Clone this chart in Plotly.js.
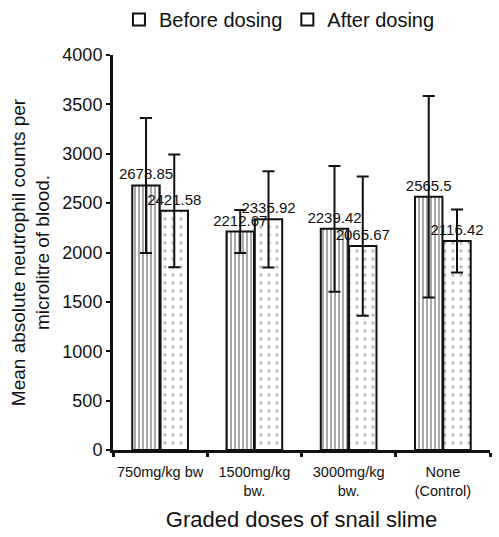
<!DOCTYPE html>
<html>
<head>
<meta charset="utf-8">
<script src="https://cdn.plot.ly/plotly-3.0.1.min.js"></script>
<style>html,body{margin:0;padding:0;background:#fff;}#chart{width:499px;height:537px;}</style>
</head>
<body>
<div id="chart"></div>
<script>
var categories = ["750mg/kg bw", "1500mg/kg<br>bw.", "3000mg/kg<br>bw.", "None<br>(Control)"];
var beforeValues = [2678.85, 2212.67, 2239.42, 2565.5];
var afterValues = [2421.58, 2335.92, 2065.67, 2116.42];
var beforeErr = [683, 218, 637, 1020];
var afterErr = [572, 487, 705, 320];
var beforeLabels = ["2678.85", "2212.67", "2239.42", "2565.5"];
var afterLabels = ["2421.58", "2335.92", "2065.67", "2116.42"];
var yTicks = [0, 500, 1000, 1500, 2000, 2500, 3000, 3500, 4000];

var font = "Liberation Sans, Arial, sans-serif";

var traces = [
  {
    type: "bar", x: categories, y: beforeValues, name: "Before dosing", showlegend: false,
    text: beforeLabels, textposition: "outside", constraintext: "none", cliponaxis: false,
    textfont: {family: font, size: 15, color: "#111"},
    marker: {color: "#cfcfcf", line: {color: "#111", width: 2},
      pattern: {shape: "|", fgcolor: "#707070", size: 4, solidity: 0.3}},
    error_y: {type: "data", array: beforeErr, visible: true, color: "#111", thickness: 2, width: 6}
  },
  {
    type: "bar", x: categories, y: afterValues, name: "After dosing", showlegend: false,
    text: afterLabels, textposition: "outside", constraintext: "none", cliponaxis: false,
    textfont: {family: font, size: 15, color: "#111"},
    marker: {color: "#ffffff", line: {color: "#111", width: 2},
      pattern: {shape: ".", fgcolor: "#bbb", size: 8, solidity: 0.15}},
    error_y: {type: "data", array: afterErr, visible: true, color: "#111", thickness: 2, width: 6}
  },
  {
    type: "scatter", mode: "markers", x: [null], y: [null], name: "Before dosing",
    marker: {symbol: "square-open", size: 16, color: "#111", line: {width: 2.5}}
  },
  {
    type: "scatter", mode: "markers", x: [null], y: [null], name: "After dosing",
    marker: {symbol: "square-open", size: 16, color: "#111", line: {width: 2.5}}
  }
];

var layout = {
  width: 499, height: 537,
  margin: {l: 113, r: 9, t: 55, b: 87},
  paper_bgcolor: "#fff", plot_bgcolor: "#fff",
  font: {family: font, color: "#111"},
  barmode: "group", bargap: 0.4, bargroupgap: 0.03,
  showlegend: true,
  legend: {orientation: "h", xref: "container", yref: "container", x: 0.56, xanchor: "center", y: 1, yanchor: "top",
    font: {family: font, size: 20, color: "#111"}, itemwidth: 30, tracegroupgap: 0,
    itemsizing: "constant"},
  xaxis: {
    type: "category", showline: true, linecolor: "#111", linewidth: 3,
    ticks: "outside", tickson: "boundaries", ticklen: 4, tickwidth: 3, tickcolor: "#111",
    tickangle: 0, automargin: false,
    tickfont: {family: font, size: 14.5, color: "#111"}, ticklabelstandoff: 7,
    showgrid: false, zeroline: false,
    title: {text: "Graded doses of snail slime", font: {family: font, size: 22, color: "#111"}, standoff: 14}
  },
  yaxis: {
    range: [0, 4000], tickvals: yTicks, ticktext: yTicks.map(String),
    showline: true, linecolor: "#111", linewidth: 3, automargin: false,
    ticks: "outside", ticklen: 4, tickwidth: 2, tickcolor: "#111",
    tickfont: {family: font, size: 18, color: "#111"},
    showgrid: false, zeroline: false,
    title: {text: "Mean absolute neutrophil counts per<br>microlitre of blood.", font: {family: font, size: 19, color: "#111"}, standoff: 8}
  }
};

Plotly.newPlot("chart", traces, layout, {displayModeBar: false, staticPlot: true});
</script>
</body>
</html>
